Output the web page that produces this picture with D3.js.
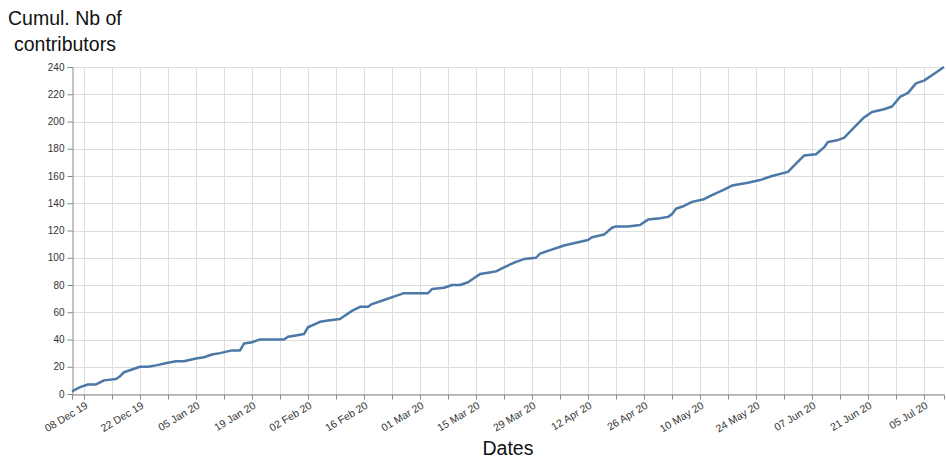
<!DOCTYPE html>
<html>
<head>
<meta charset="utf-8">
<script src="https://cdn.jsdelivr.net/npm/d3@7"></script>
<style>
  html, body { margin: 0; padding: 0; background: #fff; }
  svg { display: block; font-family: "Liberation Sans", Arial, Helvetica, sans-serif; }
</style>
</head>
<body>
<svg id="chart" width="946" height="460"></svg>
<script>
// ---- data ----
const dates = [
  "2019-12-05","2019-12-07","2019-12-09","2019-12-11","2019-12-13","2019-12-16","2019-12-17","2019-12-18",
  "2019-12-20","2019-12-22","2019-12-24","2019-12-26","2019-12-29","2019-12-31","2020-01-02","2020-01-05",
  "2020-01-07","2020-01-09","2020-01-11","2020-01-14","2020-01-16","2020-01-17","2020-01-19","2020-01-21",
  "2020-01-24","2020-01-27","2020-01-28","2020-01-30","2020-02-01","2020-02-02","2020-02-05","2020-02-07",
  "2020-02-10","2020-02-11","2020-02-13","2020-02-15","2020-02-17","2020-02-18","2020-02-21","2020-02-24",
  "2020-02-26","2020-02-29","2020-03-03","2020-03-04","2020-03-07","2020-03-09","2020-03-11","2020-03-13",
  "2020-03-14","2020-03-16","2020-03-18","2020-03-20","2020-03-22","2020-03-25","2020-03-27","2020-03-30",
  "2020-03-31","2020-04-02","2020-04-06","2020-04-09","2020-04-12","2020-04-13","2020-04-16","2020-04-18",
  "2020-04-19","2020-04-22","2020-04-25","2020-04-27","2020-04-30","2020-05-02","2020-05-03","2020-05-04",
  "2020-05-06","2020-05-08","2020-05-11","2020-05-13","2020-05-16","2020-05-18","2020-05-22","2020-05-25",
  "2020-05-28","2020-06-01","2020-06-03","2020-06-05","2020-06-08","2020-06-10","2020-06-11","2020-06-13",
  "2020-06-15","2020-06-17","2020-06-20","2020-06-22","2020-06-25","2020-06-27","2020-06-29","2020-07-01",
  "2020-07-03","2020-07-05","2020-07-07","2020-07-10"
];
const contributors = [
  2,5,7,7,10,11,13,16,
  18,20,20,21,23,24,24,26,
  27,29,30,32,32,37,38,40,
  40,40,42,43,44,49,53,54,
  55,57,61,64,64,66,69,72,
  74,74,74,77,78,80,80,82,
  84,88,89,90,93,97,99,100,
  103,105,109,111,113,115,117,122,
  123,123,124,128,129,130,132,136,
  138,141,143,146,150,153,155,157,
  160,163,169,175,176,181,185,186,
  188,194,203,207,209,211,218,221,
  228,230,234,240
];
const yTicks = [0, 20, 40, 60, 80, 100, 120, 140, 160, 180, 200, 220, 240];
const xLabelDates = [
  "2019-12-08","2019-12-22","2020-01-05","2020-01-19","2020-02-02","2020-02-16","2020-03-01",
  "2020-03-15","2020-03-29","2020-04-12","2020-04-26","2020-05-10","2020-05-24","2020-06-07",
  "2020-06-21","2020-07-05"
];
const xDomain = ["2019-12-05", "2020-07-10"];
const yTitleLines = ["Cumul. Nb of", "contributors"];
const xTitle = "Dates";

// ---- layout ----
const parse = d3.utcParse("%Y-%m-%d");
const fmt = d3.utcFormat("%d %b %y");
const L = 72, R = 944, T = 67, B = 394;

const svg = d3.select("#chart");
const x = d3.scaleUtc().domain(xDomain.map(parse)).range([L, R]);
const y = d3.scaleLinear().domain([0, 240]).range([B, T]);

const data = dates.map((d, i) => ({ date: parse(d), value: contributors[i] }));
const weekTicks = d3.utcWeek.every(1).range(x.domain()[0], x.domain()[1]);
const labelSet = new Set(xLabelDates);

// grid
const grid = svg.append("g");
grid.selectAll("line.v").data(weekTicks).join("line")
  .attr("x1", d => Math.round(x(d)) + 0.5).attr("x2", d => Math.round(x(d)) + 0.5)
  .attr("y1", T).attr("y2", B)
  .attr("stroke", "#dedede").attr("stroke-width", 1);
grid.selectAll("line.h").data(yTicks).join("line")
  .attr("x1", L).attr("x2", R)
  .attr("y1", d => Math.round(y(d)) + 0.5).attr("y2", d => Math.round(y(d)) + 0.5)
  .attr("stroke", "#dedede").attr("stroke-width", 1);

// y axis
const yAxis = svg.append("g").attr("transform", `translate(${L + 0.5},0)`)
  .call(d3.axisLeft(y).tickValues(yTicks).tickSize(5).tickPadding(3));
yAxis.select(".domain").attr("stroke", "#888");
yAxis.selectAll(".tick line").attr("stroke", "#888");
yAxis.selectAll(".tick text").attr("font-size", 10).attr("fill", "#333")
  .attr("font-family", "'Liberation Sans', Arial, sans-serif");

// x axis
const xAxis = svg.append("g").attr("transform", `translate(0,${B + 0.5})`)
  .call(d3.axisBottom(x).tickValues(weekTicks).tickSize(5)
    .tickFormat(d => labelSet.has(d3.utcFormat("%Y-%m-%d")(d)) ? fmt(d) : ""));
xAxis.select(".domain").attr("stroke", "#888");
xAxis.selectAll(".tick line").attr("stroke", "#888");
xAxis.selectAll(".tick text")
  .attr("font-size", 10.5).attr("fill", "#333")
  .attr("font-family", "'Liberation Sans', Arial, sans-serif")
  .attr("text-anchor", "end")
  .attr("dy", null).attr("y", 0)
  .attr("transform", "translate(4,13) rotate(-31)");

// line
svg.append("path").datum(data)
  .attr("fill", "none")
  .attr("stroke", "#4c78a8")
  .attr("stroke-width", 2.5)
  .attr("stroke-linejoin", "round")
  .attr("d", d3.line().x(d => x(d.date)).y(d => y(d.value)));

// titles
svg.append("text").attr("x", 8).attr("y", 25)
  .attr("font-size", 19.5).attr("fill", "#111").text(yTitleLines[0]);
svg.append("text").attr("x", 14).attr("y", 51)
  .attr("font-size", 19.5).attr("fill", "#111").text(yTitleLines[1]);
svg.append("text").attr("x", (L + R) / 2).attr("y", 455)
  .attr("text-anchor", "middle")
  .attr("font-size", 19.5).attr("fill", "#111").text(xTitle);
</script>
</body>
</html>
